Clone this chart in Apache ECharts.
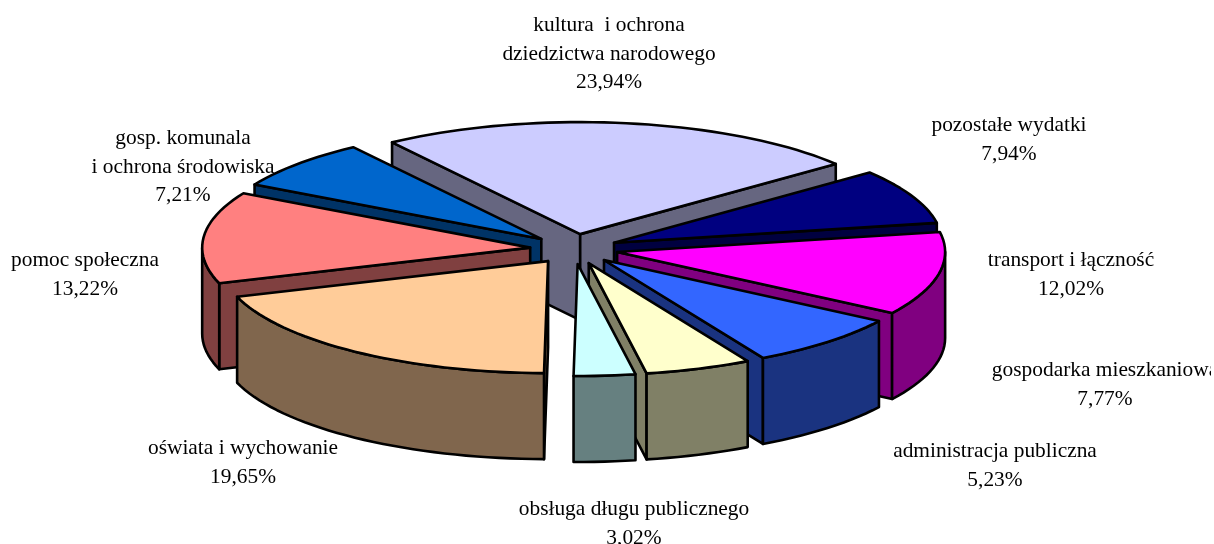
<!DOCTYPE html>
<html>
<head>
<meta charset="utf-8">
<title>Wydatki</title>
<script src="https://cdn.jsdelivr.net/npm/echarts@6/dist/echarts.min.js"></script>
<style>
  html, body { margin: 0; padding: 0; background: #fff; }
  #chart { width: 1214px; height: 544px; }
</style>
</head>
<body>
<div id="chart"></div>
<script>
// dane wykresu, kolejność jak na wykresie (zgodnie z ruchem wskazówek)
const categories = [
  'kultura  i ochrona\ndziedzictwa narodowego',
  'pozostałe wydatki',
  'transport i łączność',
  'gospodarka mieszkaniowa',
  'administracja publiczna',
  'obsługa długu publicznego',
  'oświata i wychowanie',
  'pomoc społeczna',
  'gosp. komunala\ni ochrona środowiska'
]
const values = [23.94, 7.94, 12.02, 7.77, 5.23, 3.02, 19.65, 13.22, 7.21]
const colors = ['#CCCCFF', '#000080', '#FF00FF', '#3366FF', '#FFFFCC', '#CCFFFF', '#FFCC99', '#FF8080', '#0066CC']

// środek bloku tekstu każdej etykiety
const labelX = [609, 1009, 1071, 1105, 995, 634, 243, 85, 183]
const labelY = [54, 140, 275, 385, 466, 524, 463, 275, 167]

// geometria pseudo 3D
const cx = 574
const cy = 249
const rx = 328
const ry = 112
const depth = 86
const explode = 44
const startDeg = -35

const total = values.reduce((a, b) => a + b, 0)

function darken(hex) {
  const c = echarts.color.parse(hex)
  return 'rgb(' + Math.round(c[0] / 2) + ',' + Math.round(c[1] / 2) + ',' + Math.round(c[2] / 2) + ')'
}

// kąt liczony od góry, zgodnie z ruchem wskazówek
function rim(o, deg, dz) {
  const a = (deg * Math.PI) / 180
  return [o[0] + rx * Math.sin(a), o[1] - ry * Math.cos(a) + (dz || 0)]
}

function arc(o, from, to, dz) {
  const pts = []
  const n = Math.max(2, Math.ceil(Math.abs(to - from) / 2))
  for (let i = 0; i <= n; i++) pts.push(rim(o, from + ((to - from) * i) / n, dz))
  return pts
}

// wiersze: [kąt początkowy, kąt końcowy, indeks], tylne wycinki rysowane najpierw
let acc = 0
const rows = values.map((v, i) => {
  const from = startDeg + (acc / total) * 360
  acc += v
  return [from, startDeg + (acc / total) * 360, i]
})
rows.sort((p, q) => Math.cos((((q[0] + q[1]) / 2) * Math.PI) / 180) - Math.cos((((p[0] + p[1]) / 2) * Math.PI) / 180))

const edge = { stroke: '#000', lineWidth: 2.6, lineJoin: 'round' }

function poly(points, fill) {
  return { type: 'polygon', shape: { points }, style: { ...edge, fill } }
}

function renderSlice(params, api) {
  const from = api.value(0)
  const to = api.value(1)
  const i = api.value(2)
  const mid = (((from + to) / 2) * Math.PI) / 180
  const o = [cx + explode * Math.sin(mid), cy - (explode * ry * Math.cos(mid)) / rx]
  const side = darken(colors[i])
  const children = []

  // ściany cięcia, tylko te zwrócone do widza
  const oBottom = [o[0], o[1] + depth]
  const a0 = (from * Math.PI) / 180
  const a1 = (to * Math.PI) / 180
  if (Math.sin(a0) < 0) {
    children.push(poly([o, rim(o, from), rim(o, from, depth), oBottom], side))
  }
  if (Math.sin(a1) > 0) {
    children.push(poly([o, rim(o, to), rim(o, to, depth), oBottom], side))
  }

  // ściana zewnętrzna, dolna połowa elipsy
  for (const k of [0, 360]) {
    const lo = Math.max(from, 90 + k)
    const hi = Math.min(to, 270 + k)
    if (hi > lo) {
      children.push(poly(arc(o, lo, hi, 0).concat(arc(o, hi, lo, depth)), side))
    }
  }

  // wierzch
  children.push(poly([o].concat(arc(o, from, to, 0)), colors[i]))
  return { type: 'group', children }
}

const chart = echarts.init(document.getElementById('chart'), null, { renderer: 'canvas' })

const labels = categories.map((name, i) => ({
  type: 'text',
  x: labelX[i],
  y: labelY[i],
  z: 10,
  style: {
    text: name + '\n' + values[i].toFixed(2).replace('.', ',') + '%',
    fill: '#000',
    font: '21.4px "Liberation Serif"',
    lineHeight: 28.5,
    align: 'center',
    verticalAlign: 'middle'
  }
}))

chart.setOption({
  animation: false,
  backgroundColor: '#fff',
  graphic: labels.concat([
    // etykieta ucięta na prawym brzegu
    { type: 'rect', z: 20, shape: { x: 1211, y: 340, width: 3, height: 60 }, style: { fill: '#fff' } }
  ]),
  series: [
    {
      type: 'custom',
      coordinateSystem: 'none',
      renderItem: renderSlice,
      data: rows,
      silent: true
    }
  ]
})
</script>
</body>
</html>
